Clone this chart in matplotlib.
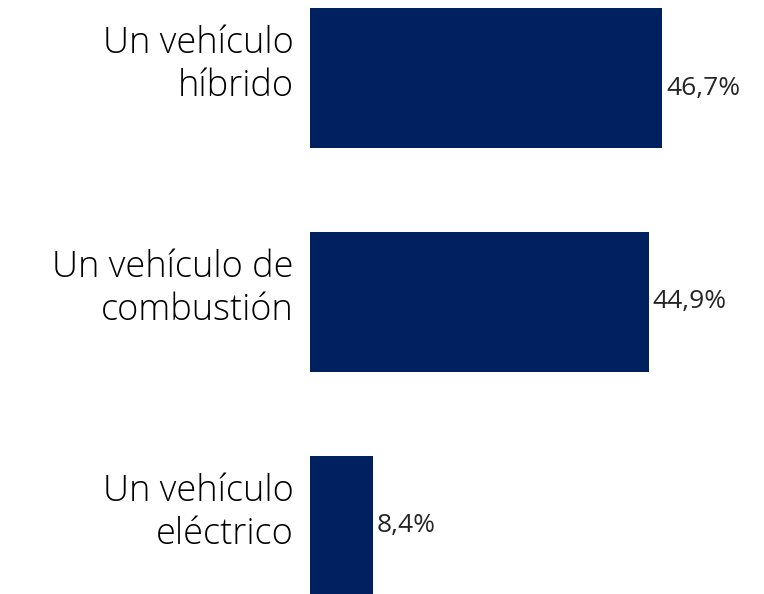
import matplotlib.pyplot as plt

# data
categories = ["Un vehículo\nhíbrido", "Un vehículo de\ncombustión", "Un vehículo\neléctrico"]
values = [46.7, 44.9, 8.4]
value_labels = ["46,7%", "44,9%", "8,4%"]

W, H = 764, 594
fig = plt.figure(figsize=(W / 100, H / 100), dpi=100)
ax = fig.add_axes([310 / W, 0, 1 - 310 / W, 1])

pos = list(range(len(values)))
ax.barh(pos, values, height=0.625, color="#002060")
ax.set_xlim(0, 454 / 7.54)
ax.set_ylim(2.304, -0.348)
ax.axis("off")

for p, v, lab, cat in zip(pos, values, value_labels, categories):
    ax.text(v + 0.5, p + (0.045 if p == 0 else 0), lab, ha="left", va="center",
            fontsize=19, color="#262626", family="Open Sans")
    ax.text(-2.2, p - 0.057, cat, ha="right", va="center", fontsize=26,
            color="#000000", family="Open Sans", fontweight="light",
            linespacing=1.2)

fig.savefig("out.png", dpi=100, facecolor="white")
